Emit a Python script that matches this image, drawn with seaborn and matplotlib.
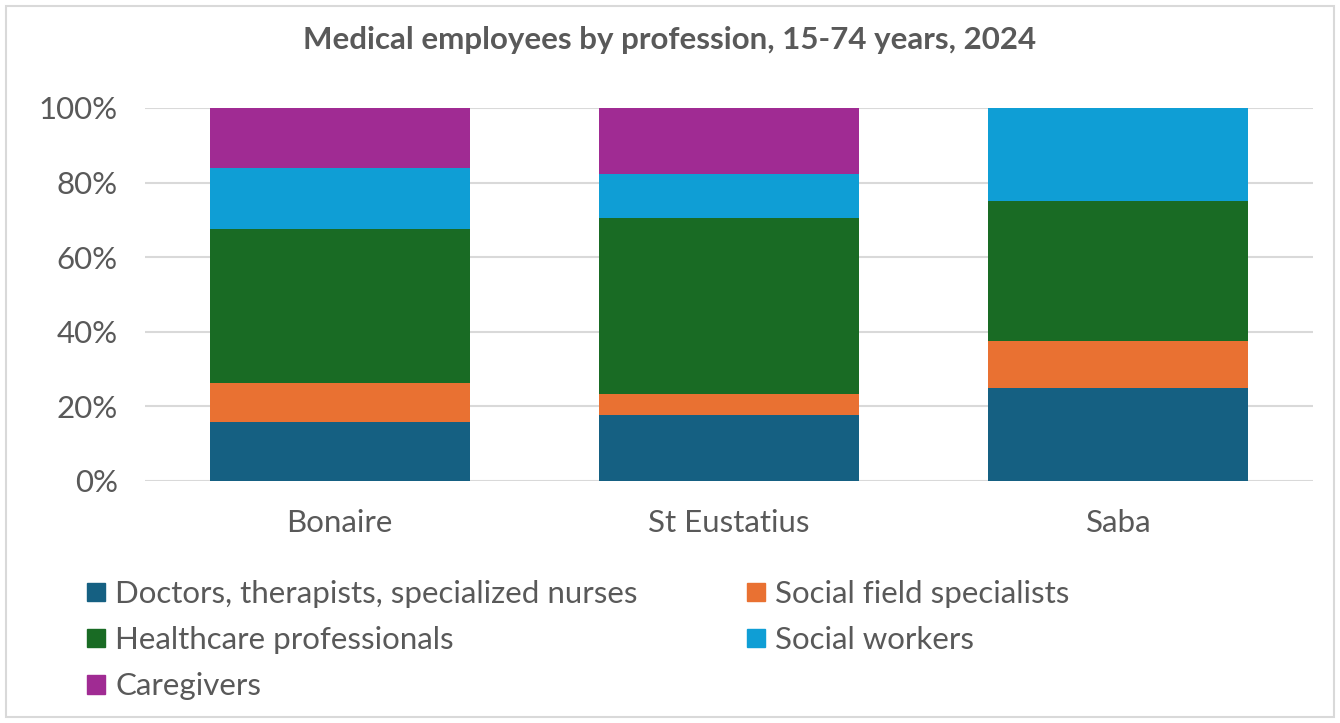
import numpy as np
import pandas as pd
import matplotlib
matplotlib.use("Agg")
import matplotlib.pyplot as plt
import seaborn as sns
from matplotlib.patches import Patch, Rectangle
from matplotlib.ticker import PercentFormatter

# Data (share of medical employees, %)
islands = ["Bonaire", "St Eustatius", "Saba"]
professions = ["Doctors, therapists, specialized nurses", "Social field specialists",
               "Healthcare professionals", "Social workers", "Caregivers"]
doctors = [15.9, 17.6, 25.0]
social_field = [10.4, 5.7, 12.5]
healthcare = [41.3, 47.2, 37.5]
social_workers = [16.2, 11.7, 25.0]
caregivers = [16.2, 17.8, 0.0]

colors = ["#156082", "#E97132", "#196B24", "#0F9ED5", "#A02B93"]
text_col = "#595959"
grid_col = "#D9D9D9"
fs = 22.5

series = [doctors, social_field, healthcare, social_workers, caregivers]

sns.set_style("white")
plt.rcParams["font.family"] = ["Lato", "DejaVu Sans"]

fig = plt.figure(figsize=(13.4, 7.23), dpi=100)
ax = fig.add_axes([145 / 1340, 1 - 481 / 723, 1168 / 1340, 373 / 723])

# stacked bars
bottom = np.zeros(len(islands))
for name, vals, col in zip(professions, series, colors):
    df = pd.DataFrame({"island": islands, "share": vals})
    sns.barplot(data=df, x="island", y="share", color=col, width=0.667,
                bottom=bottom, ax=ax, zorder=3, linewidth=0, saturation=1)
    bottom = bottom + np.array(vals)

ax.set_ylim(0, 100)
ax.set_xlim(-0.5, 2.5)
ax.set_yticks(np.arange(0, 101, 20))
ax.yaxis.set_major_formatter(PercentFormatter(decimals=0))
ax.grid(axis="y", color=grid_col, linewidth=1.5, zorder=0)
ax.set_axisbelow(True)
for s in ax.spines.values():
    s.set_visible(False)
ax.set_xlabel("")
ax.set_ylabel("")
ax.tick_params(axis="both", length=0, labelsize=fs, colors=text_col)
ax.tick_params(axis="y", pad=19.5)
ax.tick_params(axis="x", pad=20.5)

fig.text(0.5, 1 - 40 / 723, "Medical employees by profession, 15-74 years, 2024",
         ha="center", va="center", fontsize=fs, fontweight="bold", color=text_col)

# legend, row-major order like the original
handles = [Patch(color=c) for c in colors]
order = [0, 2, 4, 1, 3]
leg = fig.legend([handles[i] for i in order], [professions[i] for i in order],
                 ncol=2, loc="upper left", bbox_to_anchor=(87 / 1340, 1 - 580 / 723),
                 frameon=False, fontsize=fs, handlelength=0.58, handleheight=0.55,
                 handletextpad=0.32, columnspacing=3.5, labelspacing=0.58,
                 borderpad=0, borderaxespad=0, labelcolor=text_col)

# chart border
fig.patches.append(Rectangle((6 / 1340, 6 / 723), 1 - 12 / 1340, 1 - 12 / 723,
                             transform=fig.transFigure, fill=False,
                             edgecolor=grid_col, linewidth=1.5))

fig.savefig("out.png", dpi=100)
